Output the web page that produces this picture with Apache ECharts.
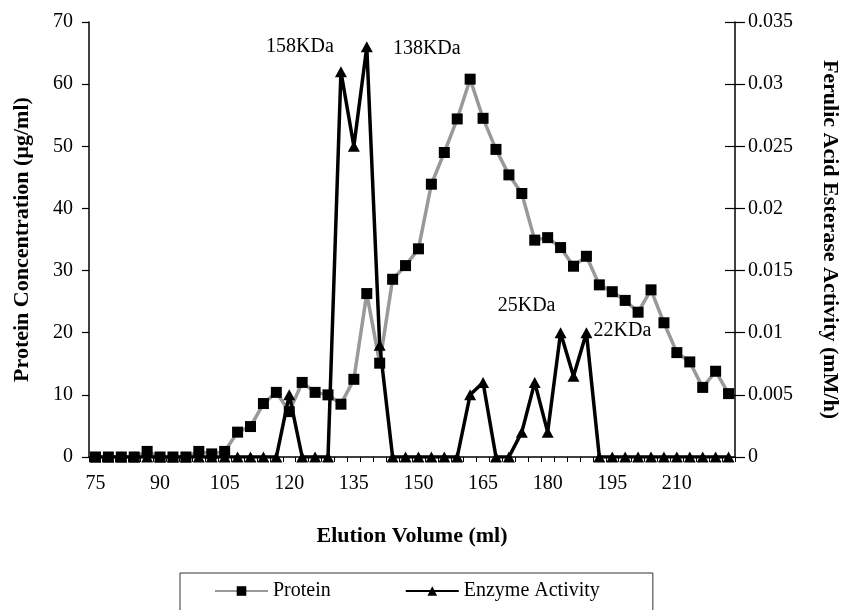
<!DOCTYPE html>
<html>
<head>
<meta charset="utf-8">
<script src="https://cdn.jsdelivr.net/npm/echarts@6/dist/echarts.min.js"></script>
<style>html,body{margin:0;padding:0;background:#fff;}#c{width:844px;height:610px;}</style>
</head>
<body>
<div id="c"></div>
<script>
const categories = [75,78,81,84,87,90,93,96,99,102,105,108,111,114,117,120,123,126,129,132,135,138,141,144,147,150,153,156,159,162,165,168,171,174,177,180,183,186,189,192,195,198,201,204,207,210,213,216,219,222];
const protein = [0,0,0,0,0.9,0,0,0,0.9,0.5,0.9,4.0,4.9,8.6,10.4,7.3,12.0,10.4,10.0,8.5,12.5,26.3,15.1,28.6,30.8,33.5,43.9,49.0,54.4,60.8,54.5,49.5,45.4,42.4,34.9,35.3,33.7,30.7,32.3,27.7,26.6,25.2,23.3,26.9,21.6,16.8,15.3,11.2,13.8,10.2];
const enzyme = [0,0,0,0,0,0,0,0,0,0,0,0,0,0,0,0.005,0,0,0,0.031,0.025,0.033,0.009,0,0,0,0,0,0,0.005,0.006,0,0,0.002,0.006,0.002,0.01,0.0065,0.01,0,0,0,0,0,0,0,0,0,0,0];
const leftTicks = [0,10,20,30,40,50,60,70];
const rightTicks = [0,0.005,0.01,0.015,0.02,0.025,0.03,0.035];
const annIndex = [19,21,36,38];
const annText = ['158KDa','138KDa','25KDa','22KDa'];

const FONT = 'Liberation Serif';
const annOffsets = [[-41,-25],[60,2],[-34,-27],[36,-2]];

const enzymeData = enzyme.map(function(v, i){
  const a = annIndex.indexOf(i);
  if (a < 0) return v;
  return {value: v, label: {show: true, formatter: annText[a], position: 'inside',
    color: '#000', fontFamily: FONT, fontSize: 20, align: 'center', verticalAlign: 'middle'}};
});

const chart = echarts.init(document.getElementById('c'), null, {renderer: 'canvas'});
chart.setOption({
  animation: false,
  backgroundColor: '#fff',
  textStyle: {fontFamily: FONT, color: '#000'},
  grid: {left: 89, right: 109, top: 22, bottom: 153, containLabel: false, outerBoundsMode: 'none'},
  legend: {
    left: 180, top: 573,
    padding: [8, 53, 30, 34],
    borderColor: '#333', borderWidth: 1,
    itemGap: 74, itemWidth: 53, itemHeight: 12,
    textStyle: {fontFamily: FONT, fontSize: 20, color: '#000'},
    data: ['Protein', 'Enzyme Activity']
  },
  xAxis: {
    type: 'category', data: categories, boundaryGap: true,
    name: 'Elution Volume (ml)', nameLocation: 'middle', nameGap: 68,
    nameTextStyle: {fontFamily: FONT, fontSize: 22, fontWeight: 'bold', color: '#000'},
    axisLine: {lineStyle: {color: '#000', width: 1.5}},
    axisTick: {show: true, interval: 0, length: 5, lineStyle: {color: '#000', width: 1}},
    axisLabel: {interval: 4, margin: 17, fontFamily: FONT, fontSize: 20, color: '#000'},
    splitLine: {show: false}
  },
  yAxis: [{
    type: 'value', min: 0, max: 70, interval: 10, position: 'left',
    name: 'Protein Concentration (µg/ml)', nameLocation: 'middle', nameGap: 56, nameRotate: 90,
    nameTextStyle: {fontFamily: FONT, fontSize: 22, fontWeight: 'bold', color: '#000'},
    axisLine: {show: true, lineStyle: {color: '#000', width: 1.5}},
    axisTick: {show: true, length: 7, lineStyle: {color: '#000', width: 1.2}},
    axisLabel: {margin: 16, fontFamily: FONT, fontSize: 20, color: '#000',
      formatter: function(v){ return leftTicks.indexOf(v) >= 0 ? String(v) : ''; }},
    splitLine: {show: false}
  }, {
    type: 'value', min: 0, max: 0.035, interval: 0.005, position: 'right',
    name: 'Ferulic Acid Esterase Activity (mM/h)', nameLocation: 'middle', nameGap: 84, nameRotate: -90,
    nameTextStyle: {fontFamily: FONT, fontSize: 22, fontWeight: 'bold', color: '#000'},
    axisLine: {show: true, lineStyle: {color: '#000', width: 1.5}},
    axisTick: {show: true, length: 10, lineStyle: {color: '#000', width: 1.2}},
    axisLabel: {margin: 13, fontFamily: FONT, fontSize: 20, color: '#000',
      formatter: function(v){ const t = rightTicks.find(function(r){ return Math.abs(r - v) < 1e-9; }); return t === undefined ? '' : String(t); }},
    splitLine: {show: false}
  }, {
    type: 'value', min: 0, max: 0.035, interval: 0.005, position: 'right',
    axisLine: {show: false},
    axisTick: {show: true, inside: true, length: 10, lineStyle: {color: '#000', width: 1.2}},
    axisLabel: {show: false},
    splitLine: {show: false}
  }],
  series: [{
    name: 'Protein', type: 'line', yAxisIndex: 0, data: protein,
    symbol: 'rect', symbolSize: 11, showSymbol: true, showAllSymbol: true,
    itemStyle: {color: '#000'},
    lineStyle: {color: '#999999', width: 3.5},
    z: 2
  }, {
    name: 'Enzyme Activity', type: 'line', yAxisIndex: 1, data: enzymeData,
    symbol: 'triangle', symbolSize: [12, 11], showSymbol: true, showAllSymbol: true,
    itemStyle: {color: '#000'},
    lineStyle: {color: '#000', width: 3.5},
    label: {show: false},
    labelLayout: function(p){
      const a = annIndex.indexOf(p.dataIndex);
      if (a < 0) return {hideOverlap: false};
      return {dx: annOffsets[a][0], dy: annOffsets[a][1], hideOverlap: false};
    },
    z: 3
  }]
});
</script>
</body>
</html>
